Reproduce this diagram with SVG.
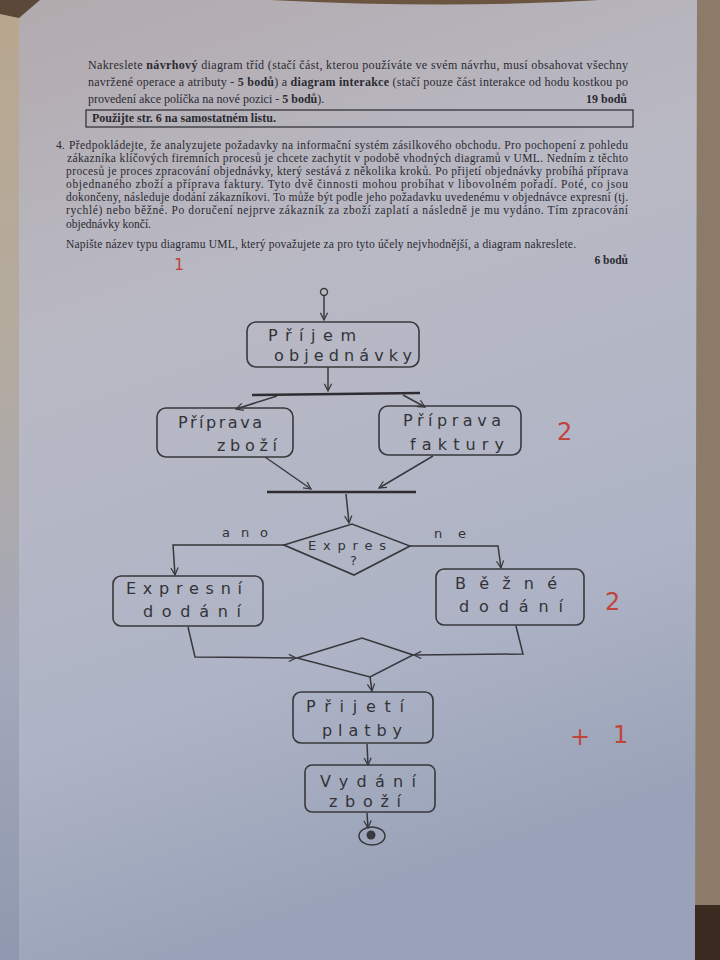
<svg xmlns="http://www.w3.org/2000/svg" width="720" height="960" viewBox="0 0 720 960">
<defs>
  <linearGradient id="paper" x1="0" y1="0" x2="0.25" y2="1">
    <stop offset="0" stop-color="#b2aaad"/>
    <stop offset="0.35" stop-color="#b9b9c4"/>
    <stop offset="0.75" stop-color="#aeb4c6"/>
    <stop offset="1" stop-color="#99a2b8"/>
  </linearGradient>
  <linearGradient id="leftsheet" x1="0" y1="0" x2="0" y2="1">
    <stop offset="0" stop-color="#b8a78e"/>
    <stop offset="0.35" stop-color="#b4ab9e"/>
    <stop offset="0.7" stop-color="#a3a8ba"/>
    <stop offset="1" stop-color="#8f98ae"/>
  </linearGradient>
  <marker id="arr" viewBox="0 0 10 10" refX="9" refY="5" markerWidth="9" markerHeight="9" markerUnits="userSpaceOnUse" orient="auto">
    <path d="M1,1 L9,5 L1,9" fill="none" stroke="#3a3a3e" stroke-width="1.4"/>
  </marker>
  <style>
    .pr{font-family:"Liberation Serif","Times New Roman",serif;font-size:11.5px;fill:#2a2a32}
    .hd{font-family:"Liberation Serif","Times New Roman",serif;font-size:12px;fill:#2a2a32}
    .b{font-weight:bold}
    .box{fill:none;stroke:#38383c;stroke-width:1.6}
    .hw{font-family:"DejaVu Sans","Liberation Sans",sans-serif;font-size:16px;fill:#333337}
    .hs{font-family:"DejaVu Sans","Liberation Sans",sans-serif;font-size:13px;fill:#333337}
    .ln{fill:none;stroke:#38383c;stroke-width:1.5}
    .bar{stroke:#2e2e32;stroke-width:2.4}
    .red{font-family:"DejaVu Sans","Liberation Sans",sans-serif;fill:#c0443c}
  </style>
</defs>
<rect width="720" height="960" fill="url(#paper)"/>
<rect x="0" y="0" width="19" height="960" fill="url(#leftsheet)"/>
<polygon points="0,0 40,0 19,18 0,14" fill="#5b4838"/>
<path d="M270,0 L600,0 Q450,9 270,0 Z" fill="#6b5440"/>
<polygon points="697,0 720,0 720,960 695,960" fill="#8b7b68"/>
<polygon points="695,905 720,905 720,960 695,960" fill="#3a2a20"/>

<g id="header">
  <text class="hd" x="88" y="69" textLength="540" lengthAdjust="spacing">Nakreslete <tspan class="b">návrhový</tspan> diagram tříd (stačí část, kterou používáte ve svém návrhu, musí obsahovat všechny</text>
  <text class="hd" x="88" y="86" textLength="540" lengthAdjust="spacing">navržené operace a atributy - <tspan class="b">5 bodů</tspan>) a <tspan class="b">diagram interakce</tspan> (stačí pouze část interakce od hodu kostkou po</text>
  <text class="hd" x="88" y="103">provedení akce políčka na nové pozici - <tspan class="b">5 bodů</tspan>).</text>
  <text class="hd b" x="627" y="103" text-anchor="end">19 bodů</text>
  <rect x="86" y="110" width="547" height="17" fill="none" stroke="#2a2a32" stroke-width="1.2"/>
  <text class="hd b" x="92" y="122">Použijte str. 6 na samostatném listu.</text>
</g>

<g id="question">
  <text class="pr" x="56" y="149">4.</text>
  <text class="pr" x="69" y="149" textLength="559" lengthAdjust="spacing">Předpokládejte, že analyzujete požadavky na informační systém zásilkového obchodu. Pro pochopení z pohledu</text>
  <text class="pr" x="67" y="162" textLength="561" lengthAdjust="spacing">zákazníka klíčových firemních procesů je chcete zachytit v podobě vhodných diagramů v UML. Nedním z těchto</text>
  <text class="pr" x="66" y="175" textLength="562" lengthAdjust="spacing">procesů je proces zpracování objednávky, který sestává z několika kroků. Po přijetí objednávky probíhá příprava</text>
  <text class="pr" x="66" y="188" textLength="562" lengthAdjust="spacing">objednaného zboží a příprava faktury. Tyto dvě činnosti mohou probíhat v libovolném pořadí. Poté, co jsou</text>
  <text class="pr" x="66" y="201" textLength="562" lengthAdjust="spacing">dokončeny, následuje dodání zákazníkovi. To může být podle jeho požadavku uvedenému v objednávce expresní (tj.</text>
  <text class="pr" x="66" y="214" textLength="562" lengthAdjust="spacing">rychlé) nebo běžné. Po doručení nejprve zákazník za zboží zaplatí a následně je mu vydáno. Tím zpracování</text>
  <text class="pr" x="66" y="228">objednávky končí.</text>
  <text class="pr" x="66" y="248" textLength="510" lengthAdjust="spacing">Napište název typu diagramu UML, který považujete za pro tyto účely nejvhodnější, a diagram nakreslete.</text>
  <text class="pr b" x="628" y="264" text-anchor="end">6 bodů</text>
</g>

<g id="grading">
  <text class="red" x="174" y="270" font-size="16">1</text>
  <text class="red" x="557" y="440" font-size="24">2</text>
  <text class="red" x="605" y="610" font-size="24">2</text>
  <text class="red" x="570" y="745" font-size="24">+</text>
  <text class="red" x="613" y="743" font-size="24">1</text>
</g>

<g id="connectors">
  <line class="ln" x1="324" y1="296" x2="324" y2="320" marker-end="url(#arr)"/>
  <line class="ln" x1="328" y1="367" x2="328" y2="391" marker-end="url(#arr)"/>
  <line class="ln" x1="277" y1="396" x2="236" y2="409" marker-end="url(#arr)"/>
  <line class="ln" x1="403" y1="395" x2="425" y2="407" marker-end="url(#arr)"/>
  <line class="ln" x1="265" y1="457" x2="311" y2="489" marker-end="url(#arr)"/>
  <line class="ln" x1="433" y1="456" x2="379" y2="488" marker-end="url(#arr)"/>
  <line class="ln" x1="346" y1="494" x2="349" y2="523" marker-end="url(#arr)"/>
  <polyline class="ln" points="284,545 173,545 175,575" marker-end="url(#arr)"/>
  <text class="hs" x="222" y="537" textLength="46" lengthAdjust="spacing">ano</text>
  <polyline class="ln" points="410,546 498,546 501,568" marker-end="url(#arr)"/>
  <text class="hs" x="434" y="538" textLength="32" lengthAdjust="spacing">ne</text>
  <polyline class="ln" points="188,627 195,657 296,658" marker-end="url(#arr)"/>
  <polyline class="ln" points="516,626 523,654 414,655" marker-end="url(#arr)"/>
  <line class="ln" x1="370" y1="677" x2="372" y2="691" marker-end="url(#arr)"/>
  <line class="ln" x1="367" y1="744" x2="368" y2="765" marker-end="url(#arr)"/>
  <line class="ln" x1="367" y1="813" x2="368" y2="828" marker-end="url(#arr)"/>
</g>

<g id="start">
  <circle cx="324" cy="292" r="3.5" fill="none" stroke="#38383c" stroke-width="1.4"/>
</g>

<g id="prijem">
  <rect class="box" x="247" y="322" width="172" height="45" rx="9"/>
  <text class="hw" x="268" y="341" textLength="88" lengthAdjust="spacing">Příjem</text>
  <text class="hw" x="274" y="361" textLength="138" lengthAdjust="spacing">objednávky</text>
</g>

<g id="fork">
  <line class="bar" x1="252" y1="395" x2="420" y2="393"/>
</g>

<g id="priprava-zbozi">
  <rect class="box" x="157" y="408" width="136" height="49" rx="9"/>
  <text class="hw" x="178" y="428" textLength="84" lengthAdjust="spacing">Příprava</text>
  <text class="hw" x="217" y="451" textLength="60" lengthAdjust="spacing">zboží</text>
</g>

<g id="priprava-faktury">
  <rect class="box" x="379" y="406" width="142" height="49" rx="9"/>
  <text class="hw" x="403" y="426" textLength="98" lengthAdjust="spacing">Příprava</text>
  <text class="hw" x="410" y="450" textLength="94" lengthAdjust="spacing">faktury</text>
</g>

<g id="join">
  <line class="bar" x1="267" y1="492" x2="416" y2="492"/>
</g>

<g id="decision">
  <polygon class="box" points="284,545 352,524 410,546 354,575"/>
  <text class="hs" x="308" y="550" textLength="78" lengthAdjust="spacing">Expres</text>
  <text class="hs" x="350" y="565">?</text>
</g>

<g id="expresni-dodani">
  <rect class="box" x="113" y="576" width="150" height="50" rx="8"/>
  <text class="hw" x="126" y="594" textLength="116" lengthAdjust="spacing">Expresní</text>
  <text class="hw" x="143" y="617" textLength="98" lengthAdjust="spacing">dodání</text>
</g>

<g id="bezne-dodani">
  <rect class="box" x="436" y="569" width="148" height="56" rx="8"/>
  <text class="hw" x="455" y="589" textLength="102" lengthAdjust="spacing">Běžné</text>
  <text class="hw" x="459" y="612" textLength="104" lengthAdjust="spacing">dodání</text>
</g>

<g id="merge">
  <polygon class="box" points="297,658 362,638 413,655 370,677"/>
</g>

<g id="prijeti-platby">
  <rect class="box" x="293" y="692" width="140" height="51" rx="8"/>
  <text class="hw" x="306" y="712" textLength="98" lengthAdjust="spacing">Přijetí</text>
  <text class="hw" x="322" y="736" textLength="80" lengthAdjust="spacing">platby</text>
</g>

<g id="vydani-zbozi">
  <rect class="box" x="305" y="765" width="130" height="47" rx="7"/>
  <text class="hw" x="320" y="787" textLength="96" lengthAdjust="spacing">Vydání</text>
  <text class="hw" x="329" y="807" textLength="72" lengthAdjust="spacing">zboží</text>
</g>

<g id="end">
  <ellipse cx="372" cy="836" rx="13" ry="9" fill="none" stroke="#38383c" stroke-width="1.5"/>
  <circle cx="371" cy="835" r="4.5" fill="#3a3a3e"/>
</g>
</svg>
